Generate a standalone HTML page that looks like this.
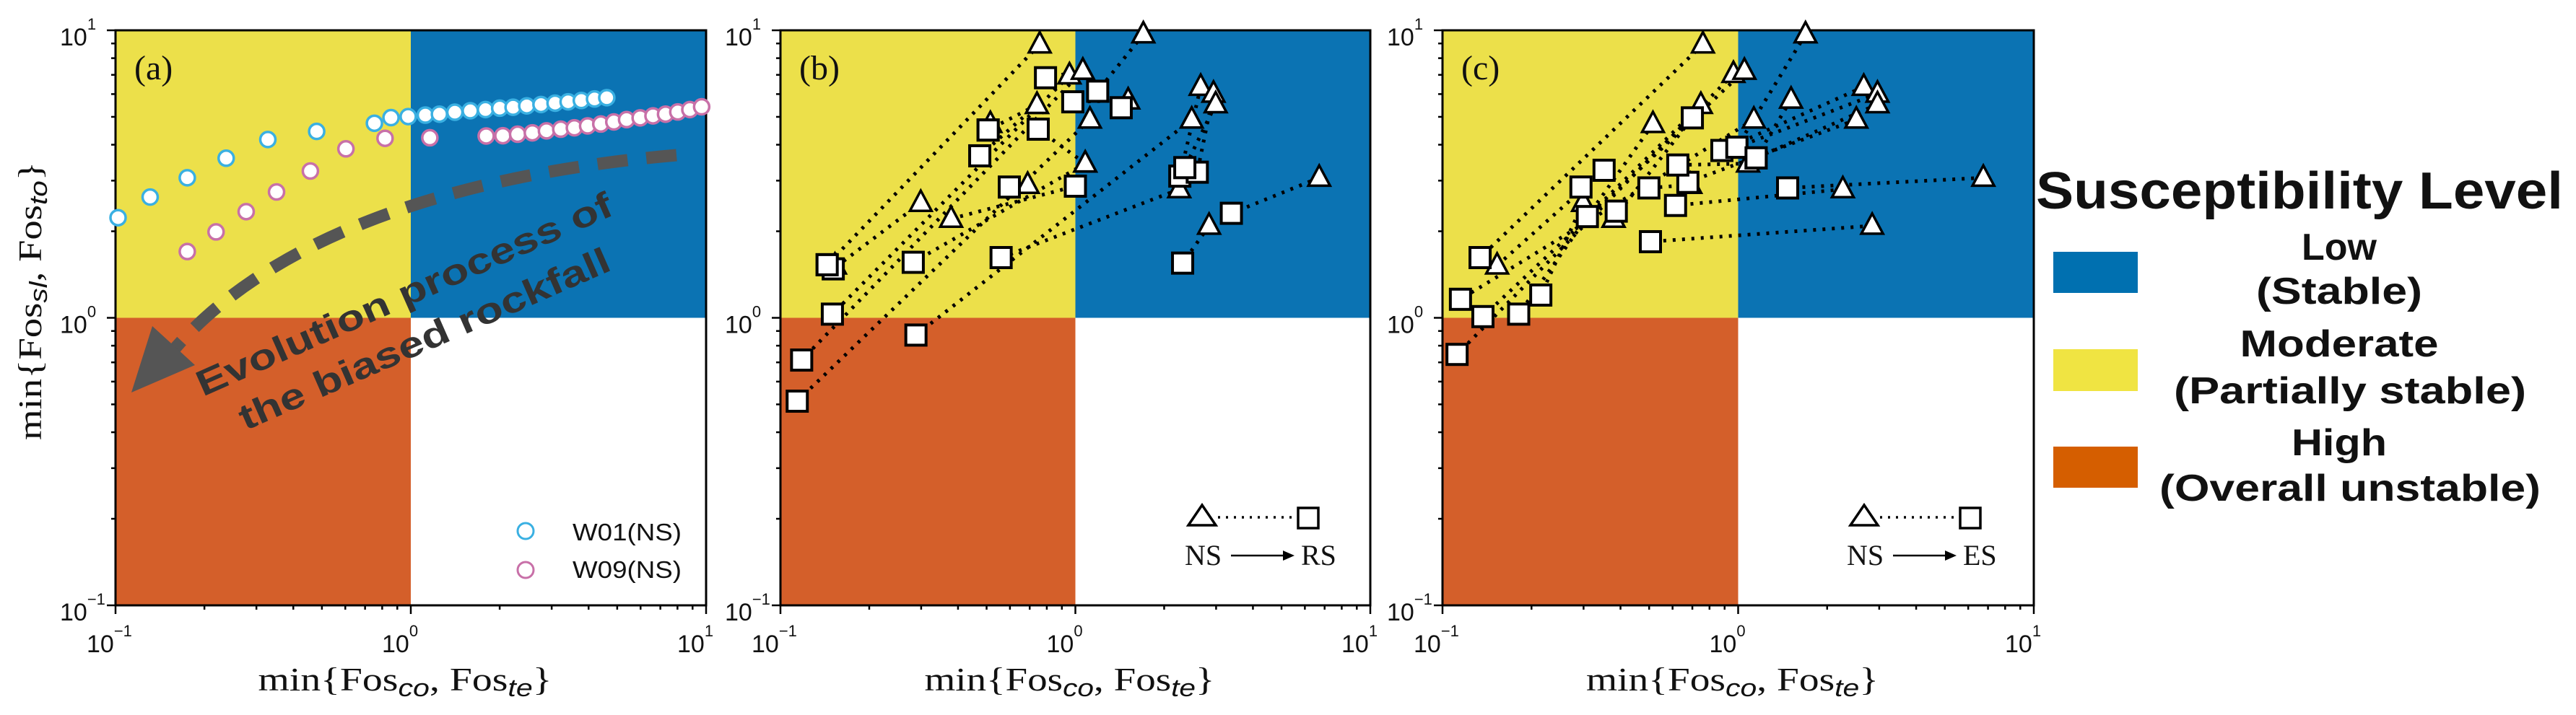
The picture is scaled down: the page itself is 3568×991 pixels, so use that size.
<!DOCTYPE html>
<html><head><meta charset="utf-8"><style>
html,body{margin:0;padding:0;background:#fff;}
svg{display:block;}
</style></head><body>
<svg id="fig" xmlns="http://www.w3.org/2000/svg" width="3568" height="991" viewBox="0 0 3568 991">
<g id="legend" font-family="'Liberation Sans', sans-serif" font-weight="bold" fill="#111">
  <text x="2820" y="289" font-size="72" textLength="730" lengthAdjust="spacingAndGlyphs">Susceptibility Level</text>
  <rect x="2844" y="349" width="117" height="57" fill="#0070b0"/>
  <rect x="2844" y="484" width="117" height="58" fill="#f0e442"/>
  <rect x="2844" y="619" width="117" height="57" fill="#d55e00"/>
  <g font-size="52" text-anchor="middle">
    <text x="3240" y="360">Low</text>
    <text x="3240" y="421" textLength="230" lengthAdjust="spacingAndGlyphs">(Stable)</text>
    <text x="3240" y="494" textLength="275" lengthAdjust="spacingAndGlyphs">Moderate</text>
    <text x="3255" y="559" textLength="488" lengthAdjust="spacingAndGlyphs">(Partially stable)</text>
    <text x="3240" y="631" textLength="132" lengthAdjust="spacingAndGlyphs">High</text>
    <text x="3255" y="694" textLength="528" lengthAdjust="spacingAndGlyphs">(Overall unstable)</text>
  </g>
</g>
</svg>
<script>
// ---- Panel (a) data ----
const w01X = [0.102,0.131,0.175,0.237,0.328,0.48,0.753,0.857,0.98,1.12,1.25,1.41,1.59,1.79,2.0,2.22,2.47,2.76,3.08,3.41,3.78,4.19,4.61];
const w01Y = [2.23,2.63,3.07,3.59,4.17,4.45,4.75,4.97,5.01,5.07,5.11,5.19,5.25,5.30,5.36,5.40,5.46,5.52,5.58,5.64,5.70,5.77,5.83];
const w09X = [0.175,0.219,0.277,0.351,0.457,0.603,0.818,1.16,1.80,2.05,2.30,2.58,2.88,3.22,3.58,3.97,4.40,4.87,5.38,5.98,6.61,7.29,8.02,8.81,9.66];
const w09Y = [1.70,1.99,2.34,2.74,3.24,3.87,4.21,4.23,4.29,4.30,4.35,4.40,4.47,4.53,4.58,4.65,4.72,4.80,4.89,4.96,5.04,5.11,5.20,5.30,5.42];
// ---- Panel (b) data: NS -> RS ----
const bNsX = [1.70,1.06,0.757,0.955,0.741,1.51,1.12,1.08,0.689,0.299,0.379,2.25,2.66,2.94,2.99,2.48,2.84,6.71,1.51,1.08,0.741,1.06,0.515,0.153];
const bNsY = [9.68,7.23,8.93,6.97,5.50,5.70,4.89,3.44,2.90,2.51,2.21,2.80,6.36,6.02,5.53,4.89,2.09,3.07,5.70,3.44,5.50,7.23,4.72,1.52];
const bRsX = [1.19,0.118,0.144,0.150,0.474,1.43,0.114,0.282,0.597,0.151,1.00,0.560,2.26,2.59,2.35,0.288,2.31,3.38,0.98,0.748,0.506,0.792,0.506,0.144];
const bRsY = [6.14,0.713,1.53,1.03,3.66,5.38,0.513,1.56,2.85,1.48,2.87,1.62,3.11,3.21,3.33,0.871,1.55,2.31,5.64,4.53,4.50,6.84,4.50,1.53];
// ---- Panel (c) data: NS -> ES ----
const cNsX = [1.69,0.760,0.964,1.05,0.748,1.51,1.13,2.66,2.96,2.96,2.51,2.26,2.84,6.75,0.515,0.153,0.299,1.08,0.379,0.689,0.299,0.379];
const cNsY = [9.68,8.93,7.05,7.23,5.50,5.74,4.89,6.36,6.02,5.53,4.89,2.80,2.09,3.07,4.72,1.52,2.51,3.44,2.21,2.90,2.51,2.21];
const cEsX = [0.99,0.134,0.112,0.137,0.309,1.15,0.115,0.881,0.99,1.15,0.676,0.614,0.505,1.47,0.181,0.352,0.215,0.625,0.700,0.499,0.294,0.387];
const cEsY = [3.92,1.62,0.746,1.01,2.25,3.60,1.16,3.82,3.92,3.60,2.96,2.46,1.84,2.83,1.03,3.26,1.20,3.40,4.96,2.83,2.85,2.35];
// axis
const tickExps = [-1, 0, 1];
const tickLabels = ["\u22121", "0", "1"];

const NS = "http://www.w3.org/2000/svg";
const svg = document.getElementById('fig');
function mk(tag, attrs, parent){
  const e = document.createElementNS(NS, tag);
  for (const k in attrs) e.setAttribute(k, attrs[k]);
  (parent || svg).appendChild(e);
  return e;
}
const T = 42, B = 839;
function makeAxes(L, R){
  const sx = v => L + (Math.log10(v) + 1) / 2 * (R - L);
  const sy = v => B - (Math.log10(v) + 1) / 2 * (B - T);
  return {sx, sy, L, R};
}
const serif = "'Liberation Serif', serif";
const sans = "'Liberation Sans', sans-serif";

function drawPanel(id, L, R, letter, xTitleW){
  const ax = makeAxes(L, R);
  const g = mk('g', {});
  
  
  const mx = ax.sx(1), my = ax.sy(1);
  const q1 = mk('rect', {x:L, y:T, width:mx-L, height:my-T, fill:'#ece04a'}, g);
  
  
  const q2 = mk('rect', {x:mx, y:T, width:R-mx, height:my-T, fill:'#0b73b3'}, g);
  
  
  const q3 = mk('rect', {x:L, y:my, width:mx-L, height:B-my, fill:'#d45f2a'}, g);
  
  
  // ticks
  const tg = mk('g', {stroke:'#000', 'stroke-width':2.5}, g);
  
  
  for (let e = -1; e <= 1; e++){
    for (let m = 1; m <= 9; m++){
      if (e === 1 && m > 1) break;
      const v = m * Math.pow(10, e);
      const len = m === 1 ? 12 : 6;
      const x = ax.sx(v), y = ax.sy(v);
      mk('line', {x1:x, x2:x, y1:B, y2:B+len}, tg);
      mk('line', {x1:L, x2:L-len, y1:y, y2:y}, tg);
    }
  }
  // tick labels
  tickExps.forEach((e, i) => {
    const v = Math.pow(10, e);
    const xl = mk('text', {x:ax.sx(v)-40, y:904, 'font-family':sans, 'font-size':34, fill:'#111'}, g);
    
    
    xl.textContent = '10';
    const xs = mk('tspan', {dy:-22, 'font-size':22}, xl);
    xs.textContent = tickLabels[i];
    const yl = mk('text', {x:L-77, y:ax.sy(v)+21, 'font-family':sans, 'font-size':34, fill:'#111'}, g);
    
    
    yl.textContent = '10';
    const ys = mk('tspan', {dy:-22, 'font-size':22}, yl);
    ys.textContent = tickLabels[i];
  });
  // frame
  const fr = mk('rect', {x:L, y:T, width:R-L, height:B-T, fill:'none', stroke:'#000', 'stroke-width':3}, g);
  
  
  // panel letter
  const lt = mk('text', {x:L+26, y:110, 'font-family':serif, 'font-size':48, fill:'#111'}, g);
  
  
  lt.textContent = letter;
  // x title
  const xt = mk('text', {x:(L+R)/2-8, y:957, 'font-family':serif, 'font-size':46, fill:'#111', 'text-anchor':'middle', textLength:xTitleW, lengthAdjust:'spacingAndGlyphs'}, g);
  
  
  xt.innerHTML = 'min{Fos<tspan font-family="Liberation Sans, sans-serif" font-style="italic" font-size="34" dy="8">co</tspan><tspan dy="-8">, Fos</tspan><tspan font-family="Liberation Sans, sans-serif" font-style="italic" font-size="34" dy="8">te</tspan><tspan dy="-8">}</tspan>';
  return {ax, g};
}

function drawPairs(p, nsX, nsY, toX, toY, tag){
  const {ax, g} = p;
  const lg = mk('g', {stroke:'#000', 'stroke-width':5, 'stroke-dasharray':'4 9', fill:'none'}, g);
  
  
  for (let i = 0; i < nsX.length; i++){
    const ln = mk('line', {x1:ax.sx(nsX[i]), y1:ax.sy(nsY[i]), x2:ax.sx(toX[i]), y2:ax.sy(toY[i])}, lg);
    
    
  }
  for (let i = 0; i < nsX.length; i++){
    const x = ax.sx(nsX[i]), y = ax.sy(nsY[i]);
    const tr = mk('polygon', {points:`${x},${y-17} ${x-15},${y+11} ${x+15},${y+11}`, fill:'#fff', stroke:'#000', 'stroke-width':3.5}, g);
    
    
  }
  for (let i = 0; i < toX.length; i++){
    const x = ax.sx(toX[i]), y = ax.sy(toY[i]);
    const sq = mk('rect', {x:x-14, y:y-14, width:28, height:28, fill:'#fff', stroke:'#000', 'stroke-width':4}, g);
    
    
  }
  // inset legend
  const L = ax.L;
  const ix = L + 584;
  const lgd = mk('g', {}, g);
  
  
  mk('polygon', {points:`${ix},${700} ${ix-19},${728} ${ix+19},${728}`, fill:'#fff', stroke:'#000', 'stroke-width':3.5}, lgd);
  mk('line', {x1:ix+22, x2:ix+130, y1:717, y2:717, stroke:'#000', 'stroke-width':3.5, 'stroke-dasharray':'3 8'}, lgd);
  mk('rect', {x:ix+133, y:704, width:28, height:28, fill:'#fff', stroke:'#000', 'stroke-width':3.5}, lgd);
  const t1 = mk('text', {x:ix-24, y:783, 'font-family':serif, 'font-size':40, fill:'#111'}, lgd);
  t1.textContent = 'NS';
  mk('line', {x1:ix+40, x2:ix+115, y1:770, y2:770, stroke:'#000', 'stroke-width':2.5}, lgd);
  mk('polygon', {points:`${ix+128},770 ${ix+112},763 ${ix+112},777`, fill:'#000'}, lgd);
  const t2 = mk('text', {x:ix+137, y:783, 'font-family':serif, 'font-size':40, fill:'#111'}, lgd);
  t2.textContent = tag === 'rs' ? 'RS' : 'ES';
}

// Panel (a)
const pa = drawPanel('a', 160, 978, '(a)', 407);
(function(){
  const {ax, g} = pa;
  const yt = mk('text', {x:0, y:0, transform:'translate(57,417) rotate(-90)', 'font-family':serif, 'font-size':46, fill:'#111', 'text-anchor':'middle', textLength:386, lengthAdjust:'spacingAndGlyphs'}, g);
  
  
  yt.innerHTML = 'min{Fos<tspan font-family="Liberation Sans, sans-serif" font-style="italic" font-size="34" dy="8">sl</tspan><tspan dy="-8">, Fos</tspan><tspan font-family="Liberation Sans, sans-serif" font-style="italic" font-size="34" dy="8">to</tspan><tspan dy="-8">}</tspan>';
  // arrow
  const ar = mk('path', {d:'M937,215 C650,240 380,320 238,488', fill:'none', stroke:'#555', 'stroke-width':17, 'stroke-dasharray':'42 26'}, g);
  
  
  const ah = mk('polygon', {points:'182,544 211,452 270,506', fill:'#555'}, g);
  
  
  const e1 = mk('text', {x:0, y:0, transform:'translate(281,550) rotate(-23.9)', 'font-family':sans, 'font-weight':'bold', 'font-size':50, fill:'#333', textLength:625, lengthAdjust:'spacingAndGlyphs'}, g);
  
  
  e1.textContent = 'Evolution process of';
  const e2 = mk('text', {x:0, y:0, transform:'translate(340,597) rotate(-23.7)', 'font-family':sans, 'font-weight':'bold', 'font-size':50, fill:'#333', textLength:556, lengthAdjust:'spacingAndGlyphs'}, g);
  
  
  e2.textContent = 'the biased rockfall';
  const series = [[w01X, w01Y, '#3ab0e2', 'w01'], [w09X, w09Y, '#c870a8', 'w09']];
  series.forEach(s => {
    for (let i = 0; i < s[0].length; i++){
      const c = mk('circle', {cx:ax.sx(s[0][i]), cy:ax.sy(s[1][i]), r:10.5, fill:'#fff', stroke:s[2], 'stroke-width':3.5}, g);
      
      
    }
  });
  const lc1 = mk('circle', {cx:728, cy:736, r:11, fill:'#fff', stroke:'#3ab0e2', 'stroke-width':3}, g);
  
  
  const lt1 = mk('text', {x:793, y:749, 'font-family':sans, 'font-size':33, fill:'#111', textLength:151, lengthAdjust:'spacingAndGlyphs'}, g);
  
  
  lt1.textContent = 'W01(NS)';
  const lc2 = mk('circle', {cx:728, cy:790, r:11, fill:'#fff', stroke:'#c870a8', 'stroke-width':3}, g);
  
  
  const lt2 = mk('text', {x:793, y:801, 'font-family':sans, 'font-size':33, fill:'#111', textLength:151, lengthAdjust:'spacingAndGlyphs'}, g);
  
  
  lt2.textContent = 'W09(NS)';
})();

const pb = drawPanel('b', 1081, 1898, '(b)', 402);
drawPairs(pb, bNsX, bNsY, bRsX, bRsY, 'rs');
const pc = drawPanel('c', 1998, 2817, '(c)', 405);
drawPairs(pc, cNsX, cNsY, cEsX, cEsY, 'es');
</script>
</body></html>
